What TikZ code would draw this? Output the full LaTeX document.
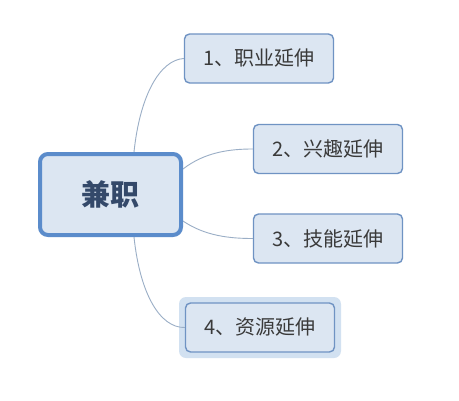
\documentclass[tikz,border=0pt]{standalone}
\usepackage{fontspec}
\newfontfamily\cjk{Noto Sans CJK SC}
\begin{document}
\begin{tikzpicture}[x=1pt,y=-1pt,
  central/.style={draw=mainborder,line width=4pt,fill=nodefill,rounded corners=8pt,
    minimum width=141pt,minimum height=81pt,inner sep=0pt,
    font=\cjk\bfseries\fontsize{29}{33}\selectfont,text=maintext},
  branch/.style={draw=branchborder,line width=1.4pt,fill=nodefill,rounded corners=5pt,
    minimum width=149pt,minimum height=49pt,inner sep=0pt,
    font=\cjk\fontsize{20}{24}\selectfont,text=branchtext},
  link/.style={draw=linkcol,line width=0.9pt}]
\definecolor{mainborder}{HTML}{5B8CCB}
\definecolor{nodefill}{HTML}{DCE6F2}
\definecolor{branchborder}{HTML}{6F93C3}
\definecolor{maintext}{HTML}{34496A}
\definecolor{branchtext}{HTML}{3A3A3A}
\definecolor{linkcol}{HTML}{9AAEC6}
\definecolor{glow}{HTML}{D2E1F1}
\useasboundingbox (0,0) rectangle (459,400);
\fill[white] (0,0) rectangle (459,400);
% selection glow around node 4
\fill[glow,rounded corners=7pt] (179,297) rectangle (341,358);
\coordinate (s1) at (134,152);
\coordinate (s4) at (134,237);
\coordinate (s2) at (183,169);
\coordinate (s3) at (183,221);
\node[branch] (b1) at (259,58.5) {1、职业延伸};
\node[branch] (b2) at (328,149) {2、兴趣延伸};
\node[branch] (b3) at (328,238.5) {3、技能延伸};
\node[branch] (b4) at (260,327.5) {4、资源延伸};
\draw[link] (s1) .. controls (140,95) and (160,60) .. (b1.west);
\draw[link] (s4) .. controls (140,294) and (160,328) .. (b4.west);
\draw[link] (s2) .. controls (205,152) and (230,149) .. (b2.west);
\draw[link] (s3) .. controls (205,236) and (230,238.5) .. (b3.west);
\node[central] (c) at (110.5,194.5) {兼职};
\end{tikzpicture}
\end{document}
